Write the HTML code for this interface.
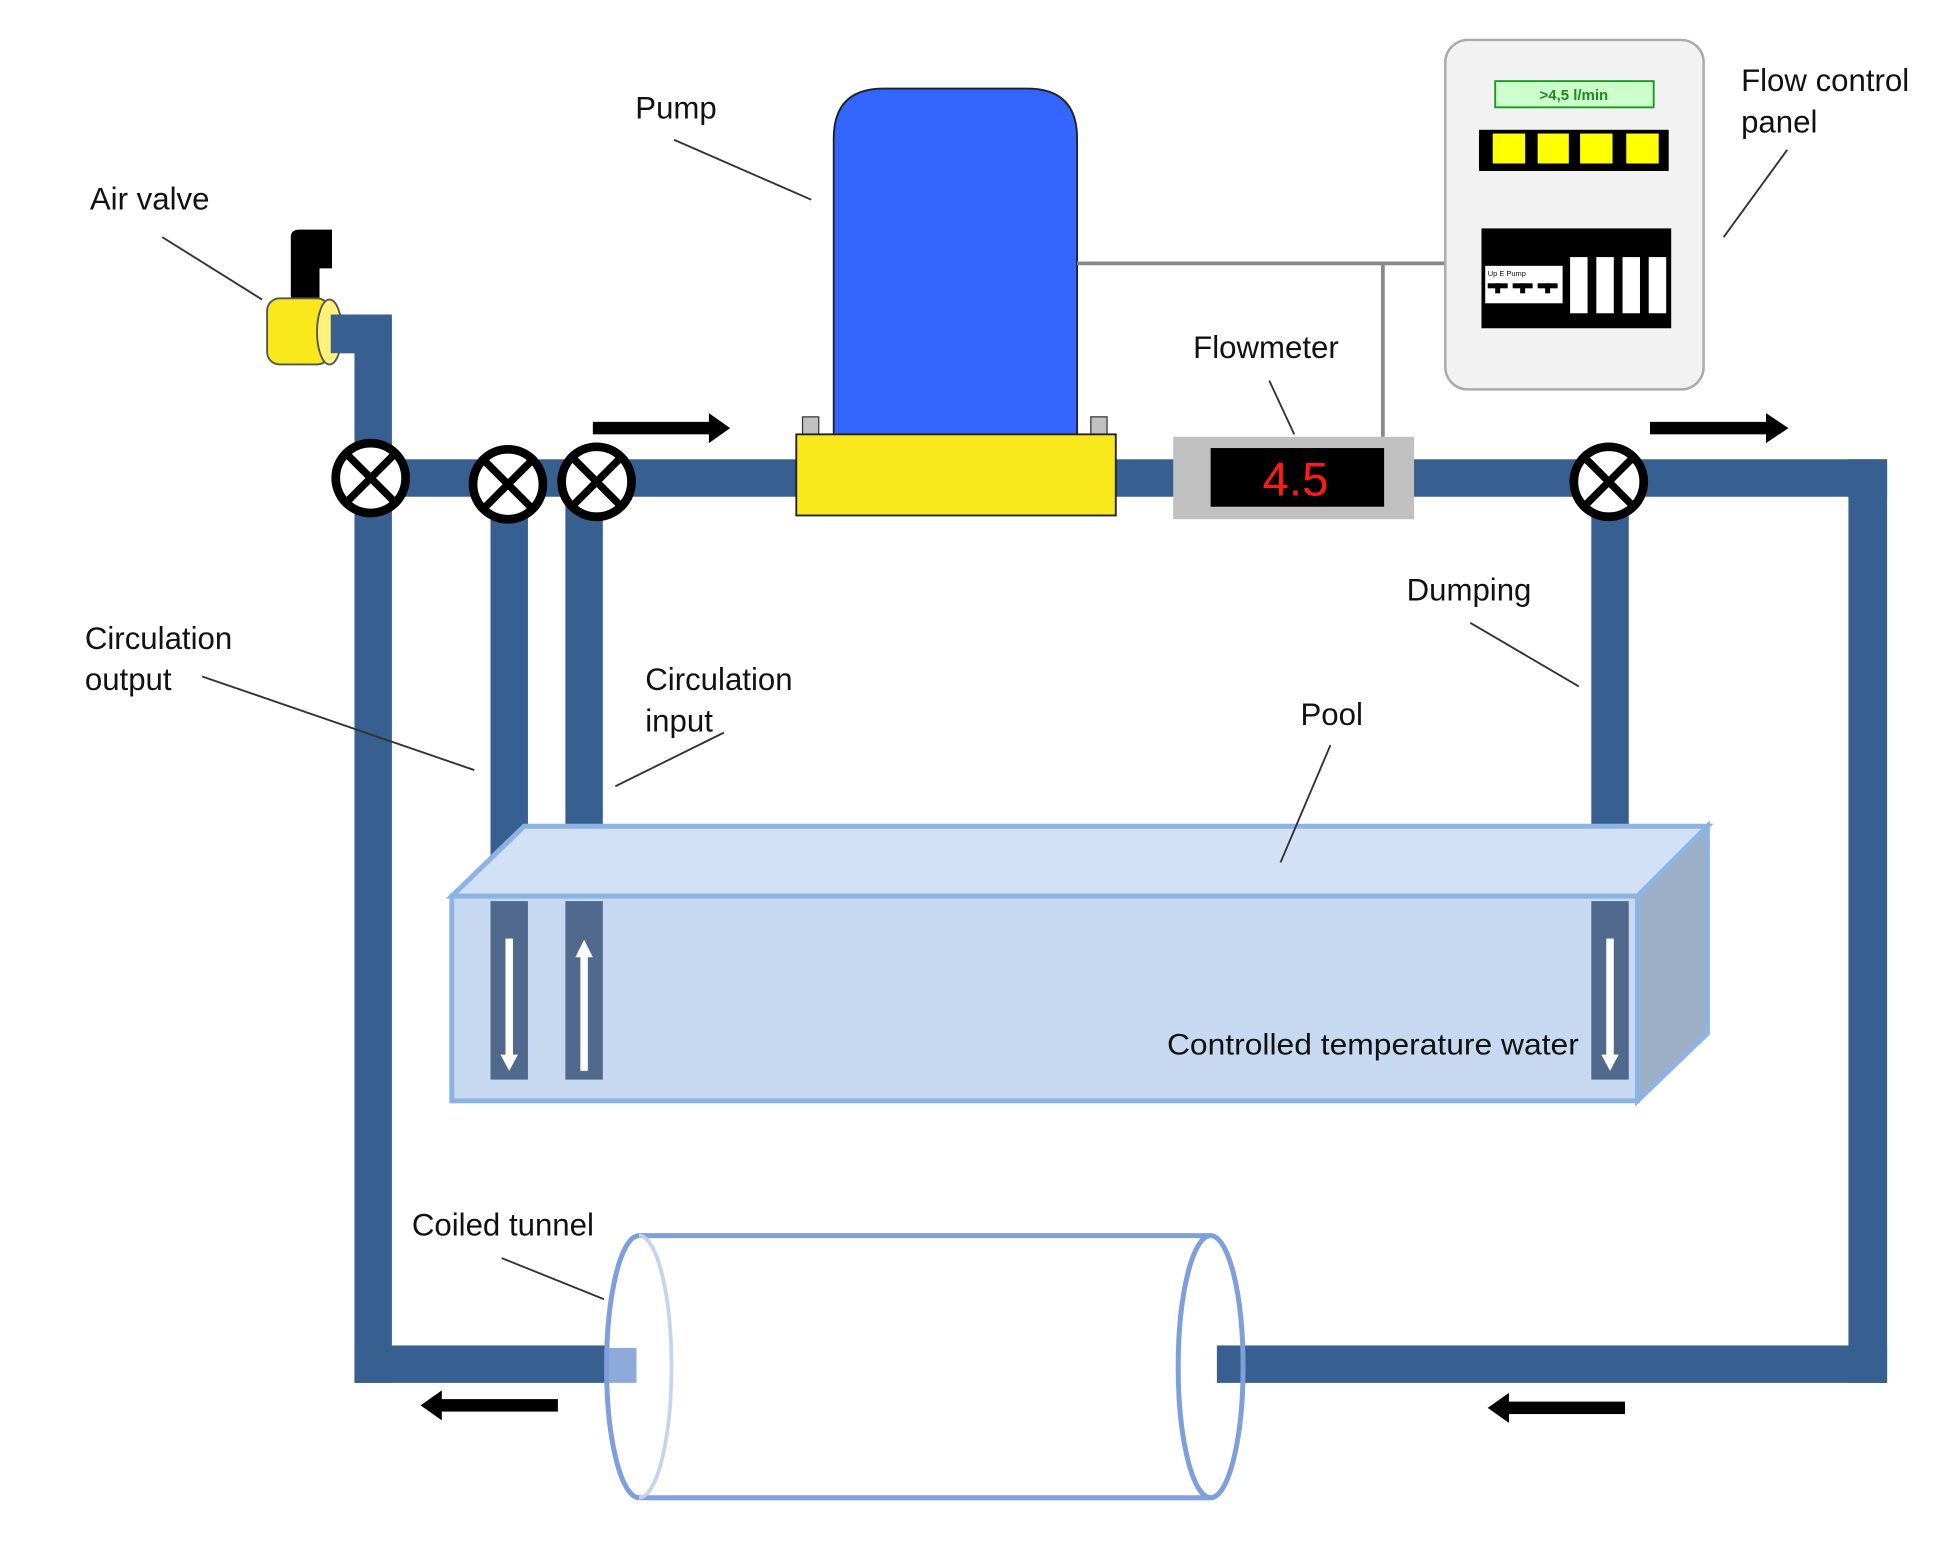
<!DOCTYPE html>
<html><head><meta charset="utf-8"><style>
html,body{margin:0;padding:0;background:#fff;}
svg{display:block;}
text{font-family:"Liberation Sans",sans-serif;fill:#111;}
</style></head><body>
<svg width="1957" height="1551" viewBox="0 0 1568 1242.7" preserveAspectRatio="none" xmlns="http://www.w3.org/2000/svg">
<rect x="0" y="0" width="1568" height="1243" fill="#fff"/>
<g fill="#375f8f">
<rect x="265" y="252" width="48" height="31"/>
<rect x="284" y="252" width="30" height="856"/>
<rect x="284" y="368" width="360" height="30"/>
<rect x="890" y="368" width="55" height="30"/>
<rect x="1130" y="368" width="382" height="30"/>
<rect x="1481" y="368" width="31" height="740"/>
<rect x="284" y="1078" width="202" height="30"/>
<rect x="975" y="1078" width="537" height="30"/>
<rect x="393" y="385" width="30" height="330"/>
<rect x="453" y="385" width="30" height="330"/>
<rect x="1275" y="385" width="30" height="330"/>
</g>
<polygon points="362,718 420,662 1368,662 1312,718" fill="#d2e1f5" stroke="#8db3e2" stroke-width="4"/>
<polygon points="1312,718 1368,662 1368,828 1312,882" fill="#9dafc6" stroke="#8db3e2" stroke-width="4"/>
<rect x="362" y="718" width="950" height="164" fill="#c6d9f1" stroke="#8db3e2" stroke-width="4"/>
<g fill="#50698d">
<rect x="393" y="722" width="30" height="143"/>
<rect x="453" y="722" width="30" height="143"/>
<rect x="1275" y="722" width="30" height="143"/>
</g>
<g fill="#fff">
<rect x="405" y="752" width="6" height="95"/><polygon points="401,845 415,845 408,858"/>
<rect x="465" y="765" width="6" height="93"/><polygon points="461,767 475,767 468,753"/>
<rect x="1287" y="752" width="6" height="95"/><polygon points="1283,845 1297,845 1290,858"/>
</g>
<text x="935" y="845" font-size="24" textLength="330" lengthAdjust="spacingAndGlyphs">Controlled temperature water</text>
<rect x="486" y="1080" width="24" height="28" fill="#8eaadb"/>
<path d="M512,990 L970,990 M512,1200 L970,1200" stroke="#7f9fdc" stroke-width="4" fill="none"/>
<ellipse cx="512" cy="1095" rx="26" ry="105" fill="none" stroke="#c5d3ee" stroke-width="3"/>
<path d="M512,990 A26,105 0 0 0 512,1200" fill="none" stroke="#7f9fdc" stroke-width="4"/>
<ellipse cx="970" cy="1095" rx="26" ry="105" fill="none" stroke="#7f9fdc" stroke-width="4"/>
<g stroke="#000" stroke-width="7" fill="#fff">
<circle cx="297" cy="383" r="28"/><circle cx="407" cy="388" r="28"/><circle cx="478" cy="386" r="28"/><circle cx="1289" cy="386" r="28"/>
</g>
<g stroke="#000" stroke-width="6">
<path d="M277,363 L317,403 M317,363 L277,403"/>
<path d="M387,368 L427,408 M427,368 L387,408"/>
<path d="M458,366 L498,406 M498,366 L458,406"/>
<path d="M1269,366 L1309,406 M1309,366 L1269,406"/>
</g>
<path d="M233,190 Q233,184 240,184 L266,184 L266,215 L256,215 L256,242 L233,242 Z" fill="#000"/>
<rect x="214" y="239" width="50" height="53" rx="10" fill="#f8e81c" stroke="#555" stroke-width="1.5"/>
<ellipse cx="264" cy="266" rx="10" ry="26" fill="#fff27a" stroke="#555" stroke-width="1.5"/>
<rect x="265" y="252" width="48" height="31" fill="#375f8f"/>
<path d="M668,350 L668,111 Q668,71 708,71 L823,71 Q863,71 863,111 L863,350 Z" fill="#3366ff" stroke="#222" stroke-width="1.5"/>
<rect x="643" y="334" width="13" height="15" fill="#c0c0c0" stroke="#333"/>
<rect x="874" y="334" width="13" height="15" fill="#c0c0c0" stroke="#333"/>
<rect x="638" y="348" width="256" height="65" fill="#f8e81c" stroke="#222" stroke-width="1.5"/>
<path d="M863,211 L1158,211 M1108,211 L1108,350" stroke="#888" stroke-width="3" fill="none"/>
<rect x="940" y="350" width="193" height="66" fill="#c0c0c0"/>
<rect x="970" y="359" width="139" height="47" fill="#000"/>
<text x="1038" y="397" font-size="38" text-anchor="middle" style="fill:#ff1a1a">4.5</text>
<rect x="1158" y="32" width="207" height="280" rx="18" fill="#f2f2f2" stroke="#aaa" stroke-width="2"/>
<rect x="1198" y="65" width="127" height="21" fill="#ccffcc" stroke="#1a9a1a" stroke-width="1.5"/>
<text x="1261" y="80" font-size="12" font-weight="bold" text-anchor="middle" style="fill:#1a8a1a">&gt;4,5 l/min</text>
<rect x="1185" y="104" width="152" height="33" fill="#000"/>
<g fill="#ffff00"><rect x="1196" y="107" width="26" height="24"/><rect x="1232" y="107" width="25" height="24"/><rect x="1266" y="107" width="26" height="24"/><rect x="1303" y="107" width="26" height="24"/></g>
<rect x="1187" y="183" width="152" height="80" fill="#000"/>
<rect x="1190" y="213" width="62" height="30" fill="#fff"/>
<text x="1192" y="221" font-size="6">Up    E    Pump</text>
<g fill="#000"><rect x="1192" y="227" width="16" height="4"/><rect x="1198" y="227" width="4" height="8"/><rect x="1212" y="227" width="16" height="4"/><rect x="1218" y="227" width="4" height="8"/><rect x="1232" y="227" width="16" height="4"/><rect x="1238" y="227" width="4" height="8"/></g>
<g fill="#fff"><rect x="1258" y="206" width="14" height="45"/><rect x="1279" y="206" width="14" height="45"/><rect x="1300" y="206" width="14" height="45"/><rect x="1321" y="206" width="14" height="45"/></g>
<g fill="#000">
<rect x="475" y="338" width="95" height="10"/><polygon points="568,331 585,343 568,355"/>
<rect x="1322" y="338" width="95" height="10"/><polygon points="1415,331 1433,343 1415,355"/>
<rect x="352" y="1121" width="95" height="10"/><polygon points="354,1114 337,1126 354,1138"/>
<rect x="1207" y="1123" width="95" height="10"/><polygon points="1209,1116 1192,1128 1209,1140"/>
</g>
<g stroke="#333" stroke-width="1.5" fill="none">
<path d="M540,112 L650,160"/><path d="M130,190 L210,240"/><path d="M1017,305 L1037,348"/>
<path d="M1178,499 L1265,550"/><path d="M1066,597 L1026,691"/><path d="M162,542 L380,617"/>
<path d="M580,587 L493,630"/><path d="M402,1008 L484,1041"/><path d="M1432,120 L1381,190"/>
</g>
<g font-size="25">
<text x="509" y="95">Pump</text>
<text x="72" y="168">Air valve</text>
<text x="956" y="287">Flowmeter</text>
<text x="1395" y="73">Flow control</text>
<text x="1395" y="106">panel</text>
<text x="1127" y="481">Dumping</text>
<text x="1042" y="581">Pool</text>
<text x="68" y="520">Circulation</text>
<text x="68" y="553">output</text>
<text x="517" y="553">Circulation</text>
<text x="517" y="586">input</text>
<text x="330" y="990">Coiled tunnel</text>
</g>
</svg>
</body></html>
